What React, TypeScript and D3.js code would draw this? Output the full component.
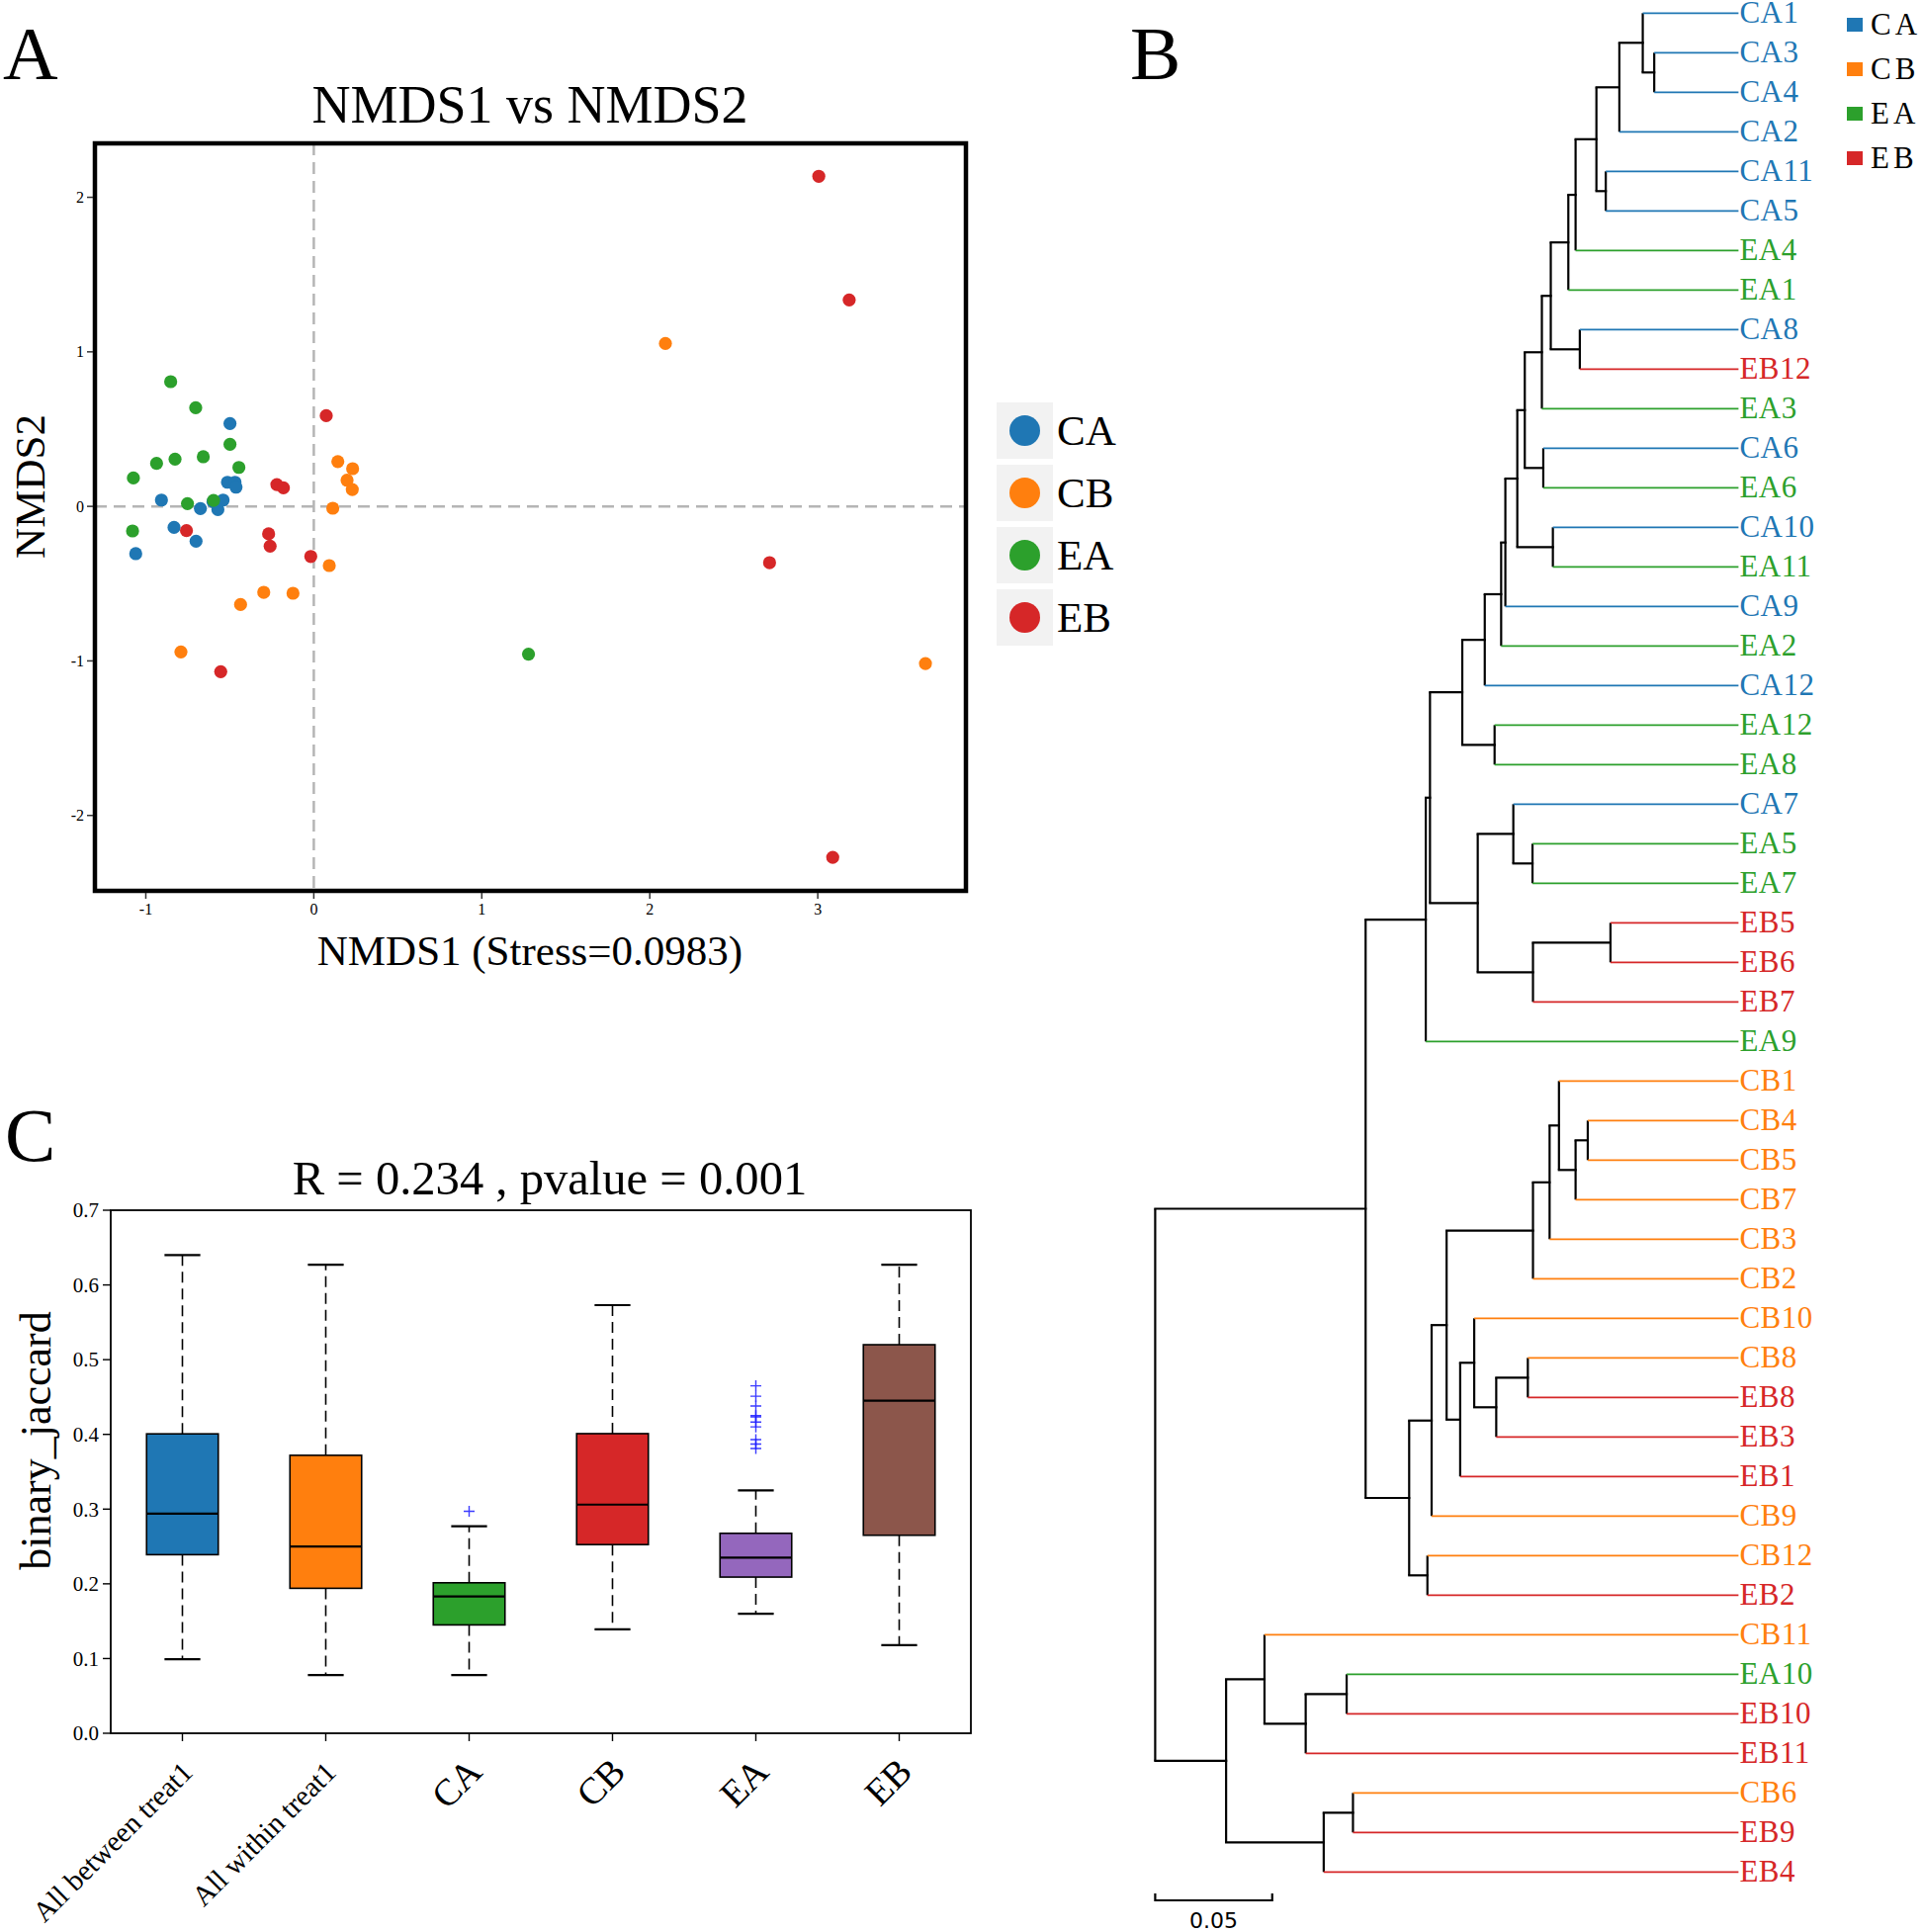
import React from 'react';
import * as d3 from 'd3';

// ---------- shared ----------
const groups = ['CA', 'CB', 'EA', 'EB'];
const groupColors = ['#1f77b4', '#ff7f0e', '#2ca02c', '#d62728'];
const SERIF = '"Liberation Serif", "Times New Roman", serif';

// ---------- Panel A: NMDS ----------
const nmdsCA: [number, number][] = [
  [-0.499, 0.536], [-0.514, 0.156], [-0.469, 0.156], [-0.463, 0.124], [-0.540, 0.041], [-0.907, 0.041],
  [-0.675, -0.014], [-0.571, -0.021], [-0.832, -0.136], [-0.701, -0.225], [-1.060, -0.306], [-0.600, 0.030],
];
const nmdsCB: [number, number][] = [
  [2.093, 1.054], [3.641, -1.017], [0.143, 0.290], [0.231, 0.244], [0.198, 0.169], [0.229, 0.109],
  [0.113, -0.012], [0.092, -0.383], [-0.298, -0.556], [-0.124, -0.562], [-0.436, -0.635], [-0.791, -0.942],
];
const nmdsEA: [number, number][] = [
  [1.278, -0.956], [-0.852, 0.807], [-0.703, 0.638], [-0.499, 0.402], [-0.658, 0.321], [-0.826, 0.306],
  [-0.936, 0.278], [-1.074, 0.184], [-0.446, 0.252], [-0.752, 0.018], [-0.597, 0.039], [-1.079, -0.159],
];
const nmdsEB: [number, number][] = [
  [3.006, 2.136], [3.187, 1.336], [2.713, -0.364], [3.089, -2.271], [0.074, 0.587], [-0.220, 0.141],
  [-0.181, 0.120], [-0.269, -0.178], [-0.260, -0.257], [-0.018, -0.324], [-0.758, -0.157], [-0.554, -1.070],
];
const nmdsSeries = [nmdsCA, nmdsCB, nmdsEA, nmdsEB];
const nmdsXTicks = [-1, 0, 1, 2, 3];
const nmdsYTicks = [-2, -1, 0, 1, 2];

// ---------- Panel B: dendrogram (merge list: id, childA, childB, node height) ----------
const treeMerges: [string, string, string, number][] = [
  ['n1', 'CA3', 'CA4', 0.0360],
  ['n2', 'CA1', 'n1', 0.0409],
  ['n3', 'n2', 'CA2', 0.0509],
  ['n4', 'CA11', 'CA5', 0.0567],
  ['n5', 'n3', 'n4', 0.0607],
  ['n6', 'n5', 'EA4', 0.0696],
  ['n7', 'n6', 'EA1', 0.0727],
  ['n8', 'CA8', 'EB12', 0.0678],
  ['n9', 'n7', 'n8', 0.0802],
  ['n10', 'n9', 'EA3', 0.0840],
  ['n11', 'CA6', 'EA6', 0.0834],
  ['n12', 'n10', 'n11', 0.0913],
  ['n13', 'CA10', 'EA11', 0.0793],
  ['n14', 'n12', 'n13', 0.0945],
  ['n15', 'n14', 'CA9', 0.0996],
  ['n16', 'n15', 'EA2', 0.1014],
  ['n17', 'n16', 'CA12', 0.1084],
  ['n18', 'EA12', 'EA8', 0.1042],
  ['n19', 'n17', 'n18', 0.1180],
  ['n20', 'EA5', 'EA7', 0.0880],
  ['n21', 'CA7', 'n20', 0.0962],
  ['n22', 'EB5', 'EB6', 0.0547],
  ['n23', 'n22', 'EB7', 0.0878],
  ['n24', 'n21', 'n23', 0.1114],
  ['n25', 'n19', 'n24', 0.1318],
  ['n26', 'n25', 'EA9', 0.1336],
  ['n27', 'CB4', 'CB5', 0.0644],
  ['n28', 'n27', 'CB7', 0.0696],
  ['n29', 'CB1', 'n28', 0.0767],
  ['n30', 'n29', 'CB3', 0.0807],
  ['n31', 'n30', 'CB2', 0.0878],
  ['n32', 'CB8', 'EB8', 0.0900],
  ['n33', 'n32', 'EB3', 0.1035],
  ['n34', 'CB10', 'n33', 0.1129],
  ['n35', 'n34', 'EB1', 0.1189],
  ['n36', 'n31', 'n35', 0.1247],
  ['n37', 'n36', 'CB9', 0.1311],
  ['n38', 'CB12', 'EB2', 0.1329],
  ['n39', 'n37', 'n38', 0.1407],
  ['n40', 'n26', 'n39', 0.1593],
  ['n41', 'EA10', 'EB10', 0.1674],
  ['n42', 'n41', 'EB11', 0.1849],
  ['n43', 'CB11', 'n42', 0.2025],
  ['n44', 'CB6', 'EB9', 0.1647],
  ['n45', 'n44', 'EB4', 0.1772],
  ['n46', 'n43', 'n45', 0.2189],
  ['n47', 'n40', 'n46', 0.2492],
];
const scaleBarValue = 0.05;

// ---------- Panel C: boxplot ----------
const boxCategories = ['All between treat1', 'All within treat1', 'CA', 'CB', 'EA', 'EB'];
const boxColors = ['#1f77b4', '#ff7f0e', '#2ca02c', '#d62728', '#9467bd', '#8c564b'];
const boxWhiskerLow = [0.099, 0.078, 0.078, 0.139, 0.160, 0.118];
const boxQ1 = [0.239, 0.194, 0.145, 0.2525, 0.209, 0.265];
const boxMedian = [0.294, 0.250, 0.183, 0.306, 0.235, 0.445];
const boxQ3 = [0.4007, 0.372, 0.2014, 0.401, 0.2676, 0.520];
const boxWhiskerHigh = [0.640, 0.627, 0.277, 0.573, 0.325, 0.627];
const boxOutliers: number[][] = [
  [], [], [0.297], [], [0.465, 0.451, 0.438, 0.425, 0.4235, 0.4165, 0.410, 0.393, 0.387, 0.381], [],
];
const boxYTicks = [0, 0.1, 0.2, 0.3, 0.4, 0.5, 0.6, 0.7];

type TNode = { name: string; height: number; children?: TNode[] };

function buildTree(): TNode {
  const map: Record<string, TNode> = {};
  const get = (n: string): TNode => map[n] || (map[n] = { name: n, height: 0 });
  let last: TNode = get('x');
  treeMerges.forEach(([id, a, b, h]) => {
    const node: TNode = { name: id, height: h, children: [get(a), get(b)] };
    map[id] = node;
    last = node;
  });
  return last;
}

function PanelA() {
  const x = d3.scaleLinear().domain([-1.303, 3.882]).range([96, 977]);
  const y = d3.scaleLinear().domain([-2.488, 2.349]).range([901, 145]);
  const [x0, x1] = x.range();
  const [y0, y1] = y.range();
  return (
    <g>
      <text x={3} y={80} fontFamily={SERIF} fontSize={77}>A</text>
      <text x={536} y={124} textAnchor="middle" fontFamily={SERIF} fontSize={54}>NMDS1 vs NMDS2</text>
      <line x1={x(0)} x2={x(0)} y1={y1} y2={y0} stroke="#b5b5b5" strokeWidth={2.5} strokeDasharray="12,7" />
      <line x1={x0} x2={x1} y1={y(0)} y2={y(0)} stroke="#b5b5b5" strokeWidth={2.5} strokeDasharray="12,7" />
      {nmdsSeries.map((pts, gi) =>
        pts.map((p, i) => (
          <circle key={gi + '-' + i} cx={x(p[0])} cy={y(p[1])} r={6.6} fill={groupColors[gi]} />
        ))
      )}
      <rect x={x0} y={y1} width={x1 - x0} height={y0 - y1} fill="none" stroke="#000" strokeWidth={4.5} />
      {nmdsXTicks.map((t) => (
        <g key={'xt' + t}>
          <line x1={x(t)} x2={x(t)} y1={y0 + 2} y2={y0 + 8} stroke="#333" strokeWidth={1.5} />
          <text x={x(t)} y={925} textAnchor="middle" fontFamily={SERIF} fontSize={16}>{String(t)}</text>
        </g>
      ))}
      {nmdsYTicks.map((t) => (
        <g key={'yt' + t}>
          <line x1={x0 - 8} x2={x0 - 2} y1={y(t)} y2={y(t)} stroke="#333" strokeWidth={1.5} />
          <text x={85} y={y(t)} dy="0.35em" textAnchor="end" fontFamily={SERIF} fontSize={16}>{String(t)}</text>
        </g>
      ))}
      <text x={536} y={976} textAnchor="middle" fontFamily={SERIF} fontSize={43}>NMDS1 (Stress=0.0983)</text>
      <text transform="translate(45,492) rotate(-90)" textAnchor="middle" fontFamily={SERIF} fontSize={43}>NMDS2</text>
      {groups.map((g, i) => (
        <g key={'lg' + g} transform={`translate(1008,${407 + i * 63})`}>
          <rect x={0} y={0} width={57} height={57} fill="#f2f2f2" />
          <circle cx={28.5} cy={28.5} r={15.5} fill={groupColors[i]} />
          <text x={61} y={43} fontFamily={SERIF} fontSize={43}>{g}</text>
        </g>
      ))}
    </g>
  );
}

function PanelB() {
  const root = d3.hierarchy<TNode>(buildTree(), (d) => d.children);
  const leaves = root.leaves();
  const yLeaf = d3.scaleLinear().domain([0, leaves.length - 1]).range([13.3, 1893.3]);
  const xH = d3.scaleLinear().domain([root.data.height, 0]).range([1168.4, 1758.4]);
  const pos = new Map<any, number>();
  leaves.forEach((l, i) => pos.set(l, yLeaf(i)));
  root.eachAfter((n) => {
    if (n.children) pos.set(n, d3.mean(n.children, (c) => pos.get(c) as number) as number);
  });
  const colorOf = (name: string) => groupColors[groups.indexOf(name.slice(0, 2))];
  const segs: JSX.Element[] = [];
  root.each((n) => {
    if (!n.children) return;
    const nx = xH(n.data.height);
    const ys = n.children.map((c) => pos.get(c) as number);
    segs.push(
      <line key={'v' + n.data.name} x1={nx} x2={nx} y1={ys[0]} y2={ys[1]} stroke="#000" strokeWidth={2.2} />
    );
    n.children.forEach((c, k) => {
      const leaf = !c.children;
      segs.push(
        <line
          key={'h' + c.data.name}
          x1={nx - (leaf ? 0 : 1.1)}
          x2={xH(c.data.height) + (leaf ? 0 : 1.1)}
          y1={ys[k]}
          y2={ys[k]}
          stroke={leaf ? colorOf(c.data.name) : '#000'}
          strokeWidth={leaf ? 1.8 : 2.2}
        />
      );
    });
  });
  const sb0 = xH(root.data.height);
  const sb1 = xH(root.data.height - scaleBarValue);
  return (
    <g>
      <text x={1143} y={80} fontFamily={SERIF} fontSize={77}>B</text>
      {segs}
      {leaves.map((l) => (
        <text
          key={'lbl' + l.data.name}
          x={xH(0) + 1}
          y={(pos.get(l) as number) + 10}
          fontFamily={SERIF}
          fontSize={31}
          letterSpacing={0.5}
          fill={colorOf(l.data.name)}
        >
          {l.data.name}
        </text>
      ))}
      {groups.map((g, i) => (
        <g key={'bl' + g}>
          <rect x={1868} y={18 + i * 45} width={16} height={14} fill={groupColors[i]} />
          <text x={1892} y={35 + i * 45} fontFamily={SERIF} fontSize={31} letterSpacing={4}>{g}</text>
        </g>
      ))}
      <path
        d={`M${sb0},1915V1922H${sb1}V1915`}
        fill="none"
        stroke="#000"
        strokeWidth={2.2}
      />
      <text x={(sb0 + sb1) / 2} y={1950} textAnchor="middle" fontFamily='"DejaVu Sans", Verdana, sans-serif' fontSize={22}>
        {String(scaleBarValue)}
      </text>
    </g>
  );
}

function PanelC() {
  const x = d3.scaleBand().domain(boxCategories).range([112, 982]).padding(0);
  const y = d3.scaleLinear().domain([0, 0.7]).range([1753, 1224]);
  const bw = x.bandwidth() * 0.5;
  const cw = bw * 0.5;
  const [yb, yt] = y.range();
  return (
    <g>
      <text x={5} y={1174} fontFamily={SERIF} fontSize={77}>C</text>
      <text x={556} y={1208} textAnchor="middle" fontFamily={SERIF} fontSize={48.6}>R = 0.234 , pvalue = 0.001</text>
      {boxCategories.map((c, i) => {
        const cx = (x(c) as number) + x.bandwidth() / 2;
        return (
          <g key={'box' + i}>
            <line x1={cx} x2={cx} y1={y(boxQ3[i])} y2={y(boxWhiskerHigh[i])} stroke="#000" strokeWidth={1.6} strokeDasharray="11,6" />
            <line x1={cx} x2={cx} y1={y(boxQ1[i])} y2={y(boxWhiskerLow[i])} stroke="#000" strokeWidth={1.6} strokeDasharray="11,6" />
            <line x1={cx - cw / 2} x2={cx + cw / 2} y1={y(boxWhiskerHigh[i])} y2={y(boxWhiskerHigh[i])} stroke="#000" strokeWidth={2.2} />
            <line x1={cx - cw / 2} x2={cx + cw / 2} y1={y(boxWhiskerLow[i])} y2={y(boxWhiskerLow[i])} stroke="#000" strokeWidth={2.2} />
            <rect x={cx - bw / 2} y={y(boxQ3[i])} width={bw} height={y(boxQ1[i]) - y(boxQ3[i])} fill={boxColors[i]} stroke="#000" strokeWidth={1.6} />
            <line x1={cx - bw / 2} x2={cx + bw / 2} y1={y(boxMedian[i])} y2={y(boxMedian[i])} stroke="#000" strokeWidth={2.2} />
            {boxOutliers[i].map((v, k) => (
              <path key={k} d={`M${cx - 5.5},${y(v)}H${cx + 5.5}M${cx},${y(v) - 5.5}V${y(v) + 5.5}`} stroke="#1a1aff" strokeWidth={1.4} strokeOpacity={0.85} />
            ))}
            <line x1={cx} x2={cx} y1={yb} y2={yb + 8} stroke="#000" strokeWidth={1.4} />
            <text
              transform={`translate(${cx + (i < 2 ? 12 : 15)},${yb + 41}) rotate(-45)`}
              textAnchor="end"
              fontFamily={SERIF}
              fontSize={i < 2 ? 29 : 38}
            >
              {c}
            </text>
          </g>
        );
      })}
      <rect x={112} y={yt} width={870} height={yb - yt} fill="none" stroke="#000" strokeWidth={1.8} />
      {boxYTicks.map((t) => (
        <g key={'cyt' + t}>
          <line x1={104} x2={112} y1={y(t)} y2={y(t)} stroke="#000" strokeWidth={1.4} />
          <text x={100} y={y(t)} dy="0.35em" textAnchor="end" fontFamily={SERIF} fontSize={21}>{t.toFixed(1)}</text>
        </g>
      ))}
      <text transform="translate(51,1457) rotate(-90)" textAnchor="middle" fontFamily={SERIF} fontSize={44}>binary_jaccard</text>
    </g>
  );
}

export default function App() {
  return (
    <svg
      width={1944}
      height={1954}
      style={{ position: 'absolute', left: 0, top: 0, display: 'block', background: '#fff' }}
    >
      <rect x={0} y={0} width={1944} height={1954} fill="#fff" />
      <PanelA />
      <PanelB />
      <PanelC />
    </svg>
  );
}
